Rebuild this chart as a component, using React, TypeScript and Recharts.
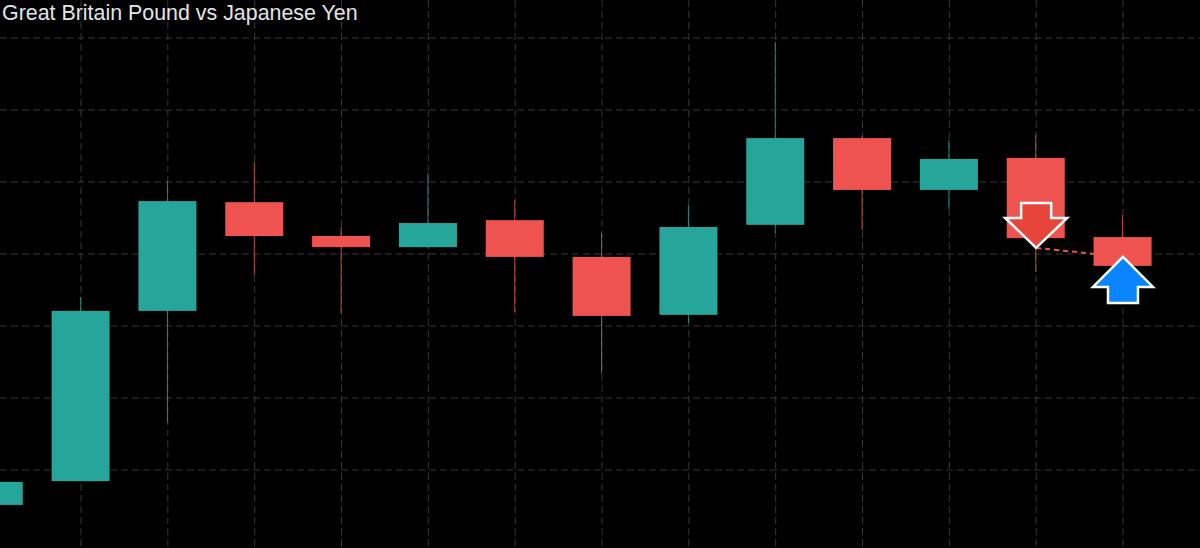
import React from "react";
import { ComposedChart, Bar, Line, Scatter, XAxis, YAxis, CartesianGrid } from "recharts";

const sessions = [0, 1, 2, 3, 4, 5, 6, 7, 8, 9, 10, 11, 12, 13];
const opens = [189.703, 189.769, 190.242, 190.544, 190.45, 190.419, 190.494, 190.392, 190.231, 190.481, 190.722, 190.578, 190.667, 190.447];
const closes = [189.767, 190.242, 190.547, 190.45, 190.419, 190.486, 190.392, 190.228, 190.475, 190.722, 190.578, 190.664, 190.444, 190.367];
const highs = [189.772, 190.281, 190.603, 190.656, 190.475, 190.625, 190.55, 190.458, 190.536, 190.989, 190.728, 190.717, 190.731, 190.508];
const lows = [189.697, 189.769, 189.931, 190.342, 190.236, 190.417, 190.239, 190.069, 190.208, 190.458, 190.467, 190.525, 190.35, 190.361];

const priceGrid = [189.6, 189.8, 190.0, 190.2, 190.4, 190.6, 190.8, 191.0];

const sellSignal = [{ idx: 12, price: 190.417 }];
const buySignal = [{ idx: 13, price: 190.392 }];
const signalLink = [...sellSignal, ...buySignal];

const GREEN = "#26A69A";
const RED = "#EF5350";

const candles = sessions.map((idx, i) => ({
  idx,
  range: [lows[i], highs[i]],
  open: opens[i],
  close: closes[i],
  high: highs[i],
  low: lows[i],
}));

function Candle(props: any) {
  const { x, y, width, height, payload } = props;
  if (x == null || payload == null) return null;
  const { open, close, high, low } = payload;
  const color = close >= open ? GREEN : RED;
  const top = height < 0 ? y + height : y;
  const h = Math.abs(height);
  const ratio = h / (high - low);
  const bodyTop = top + (high - Math.max(open, close)) * ratio;
  const bodyH = Math.max(1, Math.abs(open - close) * ratio);
  const cx = x + width / 2;
  return (
    <g>
      <line x1={cx} x2={cx} y1={top} y2={top + h} stroke={color} strokeOpacity={0.8} strokeWidth={1} />
      <rect x={x} y={bodyTop} width={width} height={bodyH} fill={color} />
    </g>
  );
}

function DownArrow({ cx, cy }: any) {
  if (cx == null) return null;
  const pts = [
    [cx - 15, cy - 45],
    [cx + 15, cy - 45],
    [cx + 15, cy - 30],
    [cx + 31, cy - 30],
    [cx, cy],
    [cx - 31, cy - 30],
    [cx - 15, cy - 30],
  ];
  return <polygon points={pts.map((p) => p.join(",")).join(" ")} fill="#E8453A" stroke="#fff" strokeWidth={2.5} strokeLinejoin="miter" />;
}

function UpArrow({ cx, cy }: any) {
  if (cx == null) return null;
  const pts = [
    [cx, cy],
    [cx + 30, cy + 30],
    [cx + 15, cy + 30],
    [cx + 15, cy + 46],
    [cx - 15, cy + 46],
    [cx - 15, cy + 30],
    [cx - 30, cy + 30],
  ];
  return <polygon points={pts.map((p) => p.join(",")).join(" ")} fill="#0A84FF" stroke="#fff" strokeWidth={2.5} strokeLinejoin="miter" />;
}

export default function App() {
  return (
    <div style={{ position: "absolute", left: 0, top: 0, width: 1200, height: 548, background: "#000", overflow: "hidden" }}>
      <ComposedChart width={1200} height={548} data={candles} margin={{ top: 0, right: 0, bottom: 0, left: 0 }}>
        <CartesianGrid stroke="#363636" strokeDasharray="7 4" horizontalValues={priceGrid} verticalValues={sessions} />
        <XAxis dataKey="idx" type="number" domain={[0.067, 13.887]} ticks={sessions} allowDataOverflow hide />
        <YAxis type="number" domain={[189.5833, 191.1056]} ticks={priceGrid} allowDataOverflow hide />
        <Bar dataKey="range" barSize={58} shape={<Candle />} isAnimationActive={false} />
        <Line data={signalLink} dataKey="price" stroke="#E8564A" strokeWidth={2} strokeDasharray="5 4" dot={false} activeDot={false} isAnimationActive={false} />
        <Scatter data={sellSignal} dataKey="price" shape={<DownArrow />} isAnimationActive={false} />
        <Scatter data={buySignal} dataKey="price" shape={<UpArrow />} isAnimationActive={false} />
      </ComposedChart>
      <div
        style={{
          position: "absolute",
          left: 2,
          top: 1,
          fontFamily: "'Liberation Sans', Arial, sans-serif",
          fontSize: 21.4,
          color: "#e4e4e4",
          whiteSpace: "nowrap",
        }}
      >
        Great Britain Pound vs Japanese Yen
      </div>
    </div>
  );
}
